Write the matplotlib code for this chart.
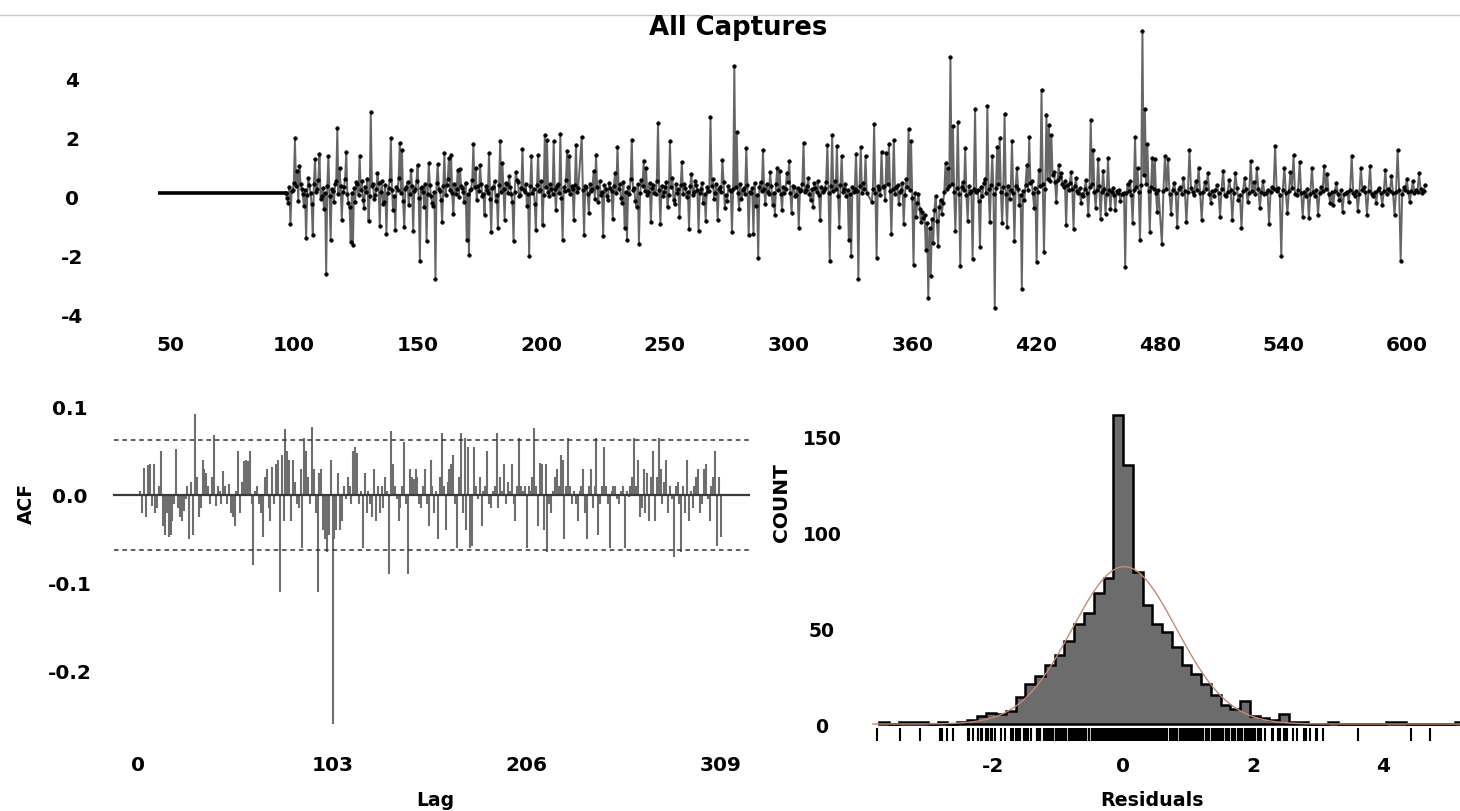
import numpy as np
import matplotlib
matplotlib.use("Agg")
import matplotlib.pyplot as plt
from matplotlib.lines import Line2D

plt.rcParams['font.family'] = ['DejaVu Sans']
plt.rcParams['font.weight'] = 'bold'

# ---------------- data ----------------
title = "All Captures"
top_tick_labels = ['50', '100', '150', '200', '250', '300', '360', '420', '480', '540', '600']
top_tick_steps = [50, 100, 150, 200, 250, 300, 350, 400, 450, 500, 550]

flat_value = 0.12
flat_span = (45.2, 96.9)

seg1_span = (96.9, 215.0)
seg1 = [0.12, -0.05, -0.23, 0.31, -0.94, 0.18, 0.22, 0.47, 1.97, 0.36, 0.88, -0.14, 1.04, 0.42, 0.27, 0.09,
        -0.33, 0.21, -1.42, 0.05, 0.63, 0.38, 0.11, -0.27, -1.31, 0.44, 1.28, 0.16, 0.24, 0.57, 1.43, -0.08,
        0.03, 0.29, -0.41, 0.13, -2.62, 0.35, 1.37, 0.02, -1.48, 0.26, 0.19, -0.18, 0.43, 0.52, 2.31, 0.07,
        0.97, 0.34, -0.78, 0.15, 0.32, 0.61, 1.52, 0.08, -0.21, -0.36, -1.53, 0.12, -1.64, 0.28, -0.17, 0.49,
        0.41, 0.06, 1.39, 0.23, 0.54, -0.12, -0.38, 0.33, 0.14, 0.58, -0.82, 0.01, 2.88, 0.37, 0.43, -0.09,
        0.04, 0.25, 0.79, 0.46, -0.99, 0.17, 0.51, -0.24, -0.19, 0.39, -1.27, 0.11, 0.28, 0.56, 1.98, 0.22,
        -0.47, 0.03, -1.12, 0.31, 0.21, 0.64, 1.81, 0.13, 1.58, -0.15, -1.03, 0.27, 0.33, 0.48, -0.28, 0.09,
        0.91, 0.36, -1.17, 0.18, 0.24, 0.53, 1.08, -0.06, -2.19, 0.29, 0.32, 0.14, -0.37, 0.42, -1.51, 0.07,
        1.12, 0.38, 0.02, -0.22, -0.31, 0.16, -2.79, 0.45, 1.09, 0.26, 0.18, -0.11, -0.87, 0.34, 1.49, 0.05,
        0.38, 0.59, 1.31, 0.21, 1.42, 0.12, -0.58, 0.41, 0.08, 0.27, 0.89, -0.03, 0.93, 0.35, 0.29, 0.15,
        -0.18, 0.47, -1.46, 0.09, -1.97, 0.23, 0.26, 0.55, 1.79, 0.31, 0.98, -0.13, 0.36, 0.19, 1.07, 0.44,
        0.03, 0.08, -0.62, 0.37, 0.22, 0.13, 1.48, -0.07, -1.19, 0.28, 0.31, 0.52, -0.16, 0.06, -1.08, 0.39,
        1.88, 0.17, 1.13, 0.24, -0.79, 0.46, 0.42, 0.11, 0.68, 0.33, 0.07, -0.19, -1.52, 0.14, 0.83, 0.57,
        0.48, 0.02, 0.04, 0.29, 1.61, 0.21, 0.17, 0.43, -0.32, 0.08, -2.03, 0.35, 1.36, 0.12, 0.27, -0.24,
        -1.14, 0.38, 1.41, 0.19, 0.23, 0.51, -0.97, 0.06, 2.08, 0.32, 1.92, 0.15, 0.01, 0.44, 0.26, 0.09,
        1.87, 0.27, -0.46, 0.36, 0.41, 0.13, 2.12, -0.04, -1.47, 0.31, 0.18, 0.55, 1.53, 0.22, 1.38, 0.07,
        0.34, 0.25, -0.81, 0.39, 1.76, 0.14, 0.28]

seg2_span = (216.4, 331.6)
seg2 = [2.02, 0.21, -1.29, 0.37, 0.33, 0.08, -0.57, 0.44, 0.18, 0.26, 0.87, -0.09, 1.41, 0.31, -0.17, 0.52,
        0.06, 0.14, -1.33, 0.39, 0.24, 0.03, -0.12, 0.47, 0.29, 0.18, -0.76, 0.35, 0.81, 0.12, 1.68, 0.27,
        0.42, -0.06, -0.23, 0.49, -1.08, 0.16, -1.47, 0.33, 0.07, 0.58, 1.93, 0.22, 0.28, -0.14, -0.34, 0.41,
        -1.61, 0.11, 0.57, 0.36, 1.22, 0.19, 0.97, 0.04, 0.16, 0.45, -0.88, 0.28, 0.38, 0.13, 0.09, 0.54,
        2.49, 0.21, -0.92, 0.37, 0.02, 0.15, 0.31, 0.48, -0.37, 0.06, 1.87, 0.32, 0.63, -0.11, -0.27, 0.43,
        0.12, 0.24, -0.71, 0.38, 1.17, 0.09, 0.43, 0.29, -0.02, 0.17, -1.09, 0.35, 0.77, 0.05, 0.14, 0.51,
        0.38, 0.23, -1.18, 0.12, 0.27, 0.46, -0.21, 0.08, -0.82, 0.33, 0.18, 0.19, 2.68, 0.37, 0.58, -0.07,
        0.13, 0.42, -0.79, 0.26, 0.32, 0.14, 1.23, 0.48, -0.38, 0.06, -0.16, 0.35, 0.22, 0.19, -1.21, 0.27,
        4.42, 0.31, 2.18, 0.12, -0.41, 0.44, -0.08, 0.23, 0.28, 0.07, 1.63, 0.38, -1.32, 0.16, 0.12, 0.29,
        -1.27, 0.47, -0.31, 0.05, -2.08, 0.33, 0.49, 0.18, 1.59, 0.26, -0.26, 0.41, 0.17, 0.09, 0.82, 0.36,
        -0.28, 0.13, -0.61, 0.44, 0.98, 0.21, 0.87, 0.07, -0.46, 0.32, 0.13, 0.25, 0.79, 0.48, 1.21, 0.11,
        -0.57, 0.37, 0.31, 0.02, 0.04, 0.28, -1.07, 0.19, 0.23, 0.43, 1.83, 0.14, 0.21, 0.36, 0.62, 0.08,
        -0.13, 0.27, -0.37, 0.45, 0.28, 0.16, 0.53, 0.06, -0.78, 0.31, 0.14, 0.22, 0.29, 0.49, 1.76, 0.12,
        -2.17, 0.34, 2.07, 0.19, 0.52, 0.26, 1.72, 0.03, -1.02, 0.38, 1.38, 0.15, 0.24, 0.44, 0.01, 0.21,
        -1.49, 0.09, -2.02, 0.33, 0.17, 0.27, 1.43, 0.18, -2.81, 0.36, 1.69, 0.11, 0.47, 0.24, 1.37, 0.13]

seg3_span = (333.6, 449.5)
seg3 = [-0.18, 0.24, 2.47, 0.13, -2.08, 0.36, 0.27, 0.05, 1.52, 0.31, 0.34, -0.12, 1.46, 0.42, 1.79, 0.18,
        -1.28, 0.27, 1.91, 0.09, 0.32, 0.38, -0.27, 0.14, 0.21, 0.47, -0.93, 0.06, 0.58, 0.33, 2.29, 0.21,
        1.88, -0.05, -2.31, 0.12, -0.68, -0.23, 0.08, -0.41, -0.87, -0.52, -0.73, -0.64, -1.82, -0.91, -3.43,
        -1.08, -2.71, -0.77, -1.58, -0.46, 0.02, -0.83, -1.69, -0.37, -0.11, -0.58, -0.21, 0.14, 1.12, 0.26,
        0.98, 0.35, 4.72, 0.41, 2.38, 0.17, -1.17, 0.28, 2.52, 0.09, -2.37, 0.33, 0.49, 0.22, 1.63, 0.04,
        -0.82, 0.36, 0.12, 0.19, -2.11, 0.27, 2.97, 0.14, 0.23, -0.16, -1.72, 0.31, 0.03, 0.45, 0.61, 0.11,
        3.08, 0.24, -0.88, 0.38, 1.37, 0.07, -3.79, 0.29, 1.68, 0.43, 1.98, 0.16, -0.91, 0.32, 2.81, 0.08,
        -1.03, 0.37, -0.07, 0.21, 1.89, 0.13, -1.51, 0.34, 0.97, 0.26, -0.28, 0.06, -3.12, 0.18, -0.13, 0.39,
        1.07, 0.22, 2.03, 0.47, 0.52, 0.11, -0.38, 0.28, -2.23, 0.15, 0.91, 0.36, 3.61, 0.42, -1.87, 0.24,
        2.78, 0.61, 2.42, 0.53, 2.09, 0.72, 0.83, 0.48, -0.17, 0.57, 1.08, 0.66, 0.79, 0.44, 0.31, 0.52,
        -0.98, 0.38, 0.21, 0.46, 0.82, 0.27, -1.09, 0.35, 0.62, 0.18, 0.13, 0.29, -0.21, 0.07, 0.03, 0.24,
        0.57, 0.12, -0.62, 0.31, 2.61, 0.43, 1.58, 0.16, -0.39, 0.22, 1.27, 0.35, -0.77, 0.14, 0.88, 0.26,
        -0.58, 0.09, 1.32, 0.21, -0.43, 0.17, 0.28, 0.06, -0.47, 0.19, 0.12, 0.23, -0.16, 0.08, 0.07, 0.13,
        -2.38, 0.11, 0.42, 0.18, 0.51, 0.04, -0.89, 0.22, 2.01, 0.31, 0.97, 0.14, -1.48, 0.38, 5.62, 0.73,
        2.98, 0.41, 1.77, 0.18, -1.19, 0.33, 1.31, 0.25, 1.28, 0.12, -0.52, 0.21]

seg4_span = (450.9, 557.3)
seg4 = [-1.61, 0.18, 1.38, 0.24, 1.27, 0.07, -0.58, 0.21, 0.47, 0.13, -1.02, 0.26, 0.31, 0.09, 0.62, 0.19,
        -0.87, 0.14, 1.59, 0.28, 0.17, 0.05, 0.52, 0.23, 0.98, 0.11, -0.78, 0.16, 0.48, 0.27, 0.81, 0.08,
        -0.22, 0.19, 0.03, 0.22, 0.38, 0.12, -0.69, 0.25, 0.88, 0.06, 0.02, 0.17, 0.57, 0.21, -0.81, 0.13,
        0.79, 0.29, -0.13, 0.04, -1.08, 0.18, 0.63, 0.24, -0.17, 0.11, 1.21, 0.2, 0.49, 0.07, 0.97, 0.26,
        -0.38, 0.15, 0.52, 0.09, 0.13, 0.22, -0.92, 0.14, 0.32, 0.27, 1.72, 0.18, 0.28, 0.06, -2.03, 0.23,
        0.98, 0.12, -0.57, 0.19, 0.82, 0.28, 1.41, 0.08, 0.04, 0.21, 1.18, 0.13, -0.68, 0.17, 0.03, 0.24,
        -0.72, 0.09, 0.97, 0.16, 0.02, 0.22, -0.61, 0.11, 0.33, 0.18, 1.02, 0.26, 0.78, 0.07, -0.21, 0.14,
        -0.28, 0.19, 0.47, 0.1, -0.12, 0.21, -0.52, 0.08, 0.11, 0.17, -0.18, 0.23, 1.39, 0.12, 0.01, 0.18,
        -0.48, 0.09, 0.98, 0.21, 0.31, 0.14, -0.61, 0.19, 1.03, 0.07, 0.02, 0.16, -0.23, 0.22, 0.28, 0.11,
        -0.29, 0.18, 0.91, 0.08, 0.27, 0.2, 0.68, 0.13, -0.63, 0.17, 1.58, 0.21, -2.19, 0.09, 0.31, 0.23,
        0.59, 0.14, -0.18, 0.19, 0.52, 0.12, 0.21, 0.16, 0.79, 0.24, 0.13, 0.18, 0.39]

# ACF, lags 1..309
acf_values = [
    0.005, -0.02, 0.031, -0.025, 0.034, 0.035, -0.012, 0.035, -0.02, -0.015,
    0.01, 0.05, -0.035, -0.045, -0.02, -0.048, -0.045, -0.03, -0.01, 0.052,
    -0.015, -0.025, -0.03, -0.018, -0.005, 0.01, -0.05, 0.015, -0.045, 0.092,
    0.02, -0.025, -0.015, 0.04, 0.03, 0.025, 0.01, -0.01, 0.02, 0.068,
    -0.012, 0.01, 0.005, -0.01, 0.027, 0.01, -0.01, 0.012, -0.02, -0.025,
    -0.035, 0.005, 0.05, -0.02, 0.015, 0.038, 0.04, 0.038, 0.05, -0.01,
    -0.08, 0.005, 0.01, -0.01, -0.02, -0.048, 0.02, 0.03, -0.015, -0.03,
    0.032, -0.01, 0.035, 0.04, -0.11, 0.045, -0.03, 0.075, 0.05, 0.04,
    -0.03, 0.04, 0.015, -0.01, -0.015, 0.03, -0.06, 0.065, 0.05, 0.02,
    -0.01, 0.077, 0.03, -0.02, -0.11, 0.025, 0.03, -0.04, -0.05, -0.065,
    -0.045, 0.04, -0.26, -0.05, -0.04, 0.025, -0.04, -0.03, 0.01, -0.005,
    0.02, 0.01, -0.01, 0.05, 0.055, 0.048, -0.01, 0.005, -0.06, 0.025,
    -0.02, 0.005, -0.01, -0.025, 0.03, -0.03, 0.01, -0.02, 0.01, -0.015,
    0.02, 0.005, -0.09, 0.073, 0.035, 0.01, -0.005, -0.03, -0.015, 0.01,
    0.06, -0.01, -0.09, 0.03, 0.02, 0.018, 0.03, 0.02, -0.01, -0.015,
    0.01, 0.03, -0.01, -0.035, 0.04, 0.01, -0.02, 0.005, -0.05, 0.02,
    0.07, 0.01, -0.04, 0.015, 0.03, 0.035, 0.045, -0.01, -0.06, 0.02,
    0.07, -0.02, 0.065, -0.04, 0.055, -0.06, -0.058, 0.055, 0.01, -0.005,
    0.02, -0.035, 0.005, 0.01, 0.05, -0.01, -0.015, 0.005, 0.01, 0.07,
    -0.015, 0.02, 0.005, 0.035, -0.01, 0.015, 0.005, 0.035, -0.01, -0.03,
    0.01, 0.065, 0.01, 0.005, 0.01, -0.06, 0.01, 0.005, 0.02, 0.076,
    0.01, -0.035, 0.036, 0.035, -0.04, 0.035, -0.065, -0.01, -0.02, 0.005,
    0.02, 0.03, 0.01, 0.045, 0.04, -0.05, 0.01, 0.065, 0.01, -0.01,
    0.005, -0.01, -0.03, 0.005, 0.01, 0.03, -0.02, -0.05, 0.01, 0.03,
    -0.015, 0.01, 0.065, -0.045, -0.01, 0.01, 0.055, 0.01, -0.01, -0.06,
    0.005, 0.01, 0.01, -0.005, -0.01, 0.005, 0.01, -0.06, 0.005, -0.002,
    0.01, 0.02, 0.065, 0.01, 0.04, -0.025, -0.015, 0.03, -0.02, 0.025,
    -0.03, 0.02, 0.05, -0.03, 0.02, 0.065, 0.03, -0.01, 0.015, 0.04,
    -0.02, 0.01, -0.005, -0.07, 0.01, 0.015, -0.01, -0.065, 0.01, -0.02,
    0.04, -0.03, 0.005, -0.015, 0.01, 0.02, 0.03, -0.02, -0.01, 0.03,
    0.035, -0.005, -0.03, 0.01, 0.02, 0.05, -0.058, 0.02, -0.048]
acf_conf = 0.062
acf_ticks = [0, 103, 206, 309]
acf_yticks = [0.1, 0.0, -0.1, -0.2]

# histogram of residuals (bin width 0.15 from -3.75 to 5.25)
hist_start, hist_width = -3.75, 0.15
hist_counts = [1, 0, 1, 1, 1, 0, 1, 0, 1, 2,
               4, 6, 5, 7, 14, 21, 25, 31, 36, 43,
               52, 58, 68, 76, 161, 135, 79, 62, 52, 48,
               40, 31, 26, 21, 15, 10, 8, 12, 4, 3,
               2, 5, 1, 1, 0, 0, 1, 0, 0, 0,
               0, 0, 1, 1, 0, 0, 0, 0, 0, 1]
norm_mean, norm_sd, norm_peak = 0.02, 0.8, 82.0
hist_xticks = [-2, 0, 2, 4]
hist_yticks = [0, 50, 100, 150]

# ---------------- figure ----------------
W, H = 1460, 812
PX = 72 / 100  # points per pixel at dpi 100
fig = plt.figure(figsize=(W / 100, H / 100), dpi=100)


def rect(x0, y0, x1, y1):
    return [x0 / W, 1 - y1 / H, (x1 - x0) / W, (y1 - y0) / H]


def clean(ax):
    for s in ax.spines.values():
        s.set_visible(False)
    ax.tick_params(length=0)
    for lab in ax.get_xticklabels() + ax.get_yticklabels():
        lab.set_fontweight('bold')


fig.add_artist(Line2D([0, 1], [1 - 16 / H] * 2, color='#c8c8c8', lw=1.0))
fig.text(738.5 / W, 1 - 28 / H, title, ha='center', va='center', fontsize=18.7, fontweight='bold')

# --- top: residual series ---
ax1 = fig.add_axes(rect(120, 22, 1440, 322))
t_parts, v_parts = [], []
for span, seg in [(seg1_span, seg1), (seg2_span, seg2), (seg3_span, seg3), (seg4_span, seg4)]:
    t_parts.append(np.linspace(span[0], span[1], len(seg)))
    v_parts.append(np.asarray(seg, dtype=float))
t_all = np.concatenate(t_parts)
v_all = np.concatenate(v_parts)
ax1.plot(flat_span, [flat_value, flat_value], color='black', lw=2.6, solid_capstyle='butt')
ax1.plot(np.r_[flat_span[1], t_all], np.r_[flat_value, v_all], color='#666666', lw=1.4,
         marker='o', ms=2.6, mfc='black', mec='black', mew=0.4)
ax1.set_xlim(29.8, 563.3)
ax1.set_ylim(-4.22, 5.95)
ax1.set_xticks(top_tick_steps)
ax1.set_xticklabels(top_tick_labels, fontsize=14.5)
ax1.set_yticks([-4, -2, 0, 2, 4])
ax1.set_yticklabels(['-4', '-2', '0', '2', '4'], fontsize=14.5, ha='center')
ax1.tick_params(axis='y', pad=48 * PX)
ax1.tick_params(axis='x', pad=14 * PX)
clean(ax1)

# --- bottom left: ACF ---
ax2 = fig.add_axes(rect(110, 400, 755, 735))
lags = np.arange(1, len(acf_values) + 1)
ax2.vlines(lags, 0, acf_values, color='#6e6e6e', lw=1.5)
ax2.plot([-13, 324], [0, 0], color='#3a3a3a', lw=1.6)
ax2.plot([-13, 324], [acf_conf, acf_conf], color='#333333', lw=1.1, ls=(0, (3, 2.5)))
ax2.plot([-13, 324], [-acf_conf, -acf_conf], color='#333333', lw=1.1, ls=(0, (3, 2.5)))
ax2.set_xlim(-15.1, 327.1)
ax2.set_ylim(-0.2716, 0.109)
ax2.set_xticks(acf_ticks)
ax2.set_xticklabels([str(v) for v in acf_ticks], fontsize=14.5)
ax2.set_yticks(acf_yticks)
ax2.set_yticklabels(['0.1', '0.0', '-0.1', '-0.2'], fontsize=14.5, ha='center')
ax2.tick_params(axis='y', pad=40 * PX)
ax2.tick_params(axis='x', pad=21 * PX)
clean(ax2)
fig.text(26 / W, 1 - 503 / H, 'ACF', rotation=90, ha='center', va='center', fontsize=13.5, fontweight='bold')
fig.text(435 / W, 1 - 801 / H, 'Lag', ha='center', va='center', fontsize=13.5, fontweight='bold')

# --- bottom right: histogram ---
ax3 = fig.add_axes(rect(870, 405, 1460, 750))
edges = hist_start + hist_width * np.arange(len(hist_counts) + 1)
ax3.stairs(hist_counts, edges, fill=True, color='#6c6c6c', lw=0)
ax3.stairs(hist_counts, edges, color='black', lw=1.8, baseline=0)
ax3.plot([edges[0], edges[-1]], [0, 0], color='black', lw=1.8)
xs = np.linspace(edges[0] - 0.1, edges[-1] + 0.1, 500)
ax3.plot(xs, norm_peak * np.exp(-0.5 * ((xs - norm_mean) / norm_sd) ** 2), color='#c58a76', lw=1.0)
rug_vals = np.r_[flat_value, v_all]
ax3.vlines(rug_vals, -9, -2, color='black', lw=1.5)
ax3.set_xlim(-3.89, 5.18)
ax3.set_ylim(-13.0, 166.7)
ax3.set_xticks(hist_xticks)
ax3.set_xticklabels([str(v) for v in hist_xticks], fontsize=14.5)
ax3.set_yticks(hist_yticks)
ax3.set_yticklabels([str(v) for v in hist_yticks], fontsize=13.5, ha='center')
ax3.tick_params(axis='y', pad=48 * PX)
ax3.tick_params(axis='x', pad=7 * PX)
clean(ax3)
fig.text(782 / W, 1 - 503 / H, 'COUNT', rotation=90, ha='center', va='center', fontsize=14.5, fontweight='bold')
fig.text(1152 / W, 1 - 801 / H, 'Residuals', ha='center', va='center', fontsize=13.7, fontweight='bold')

fig.savefig('out.png', dpi=100)
